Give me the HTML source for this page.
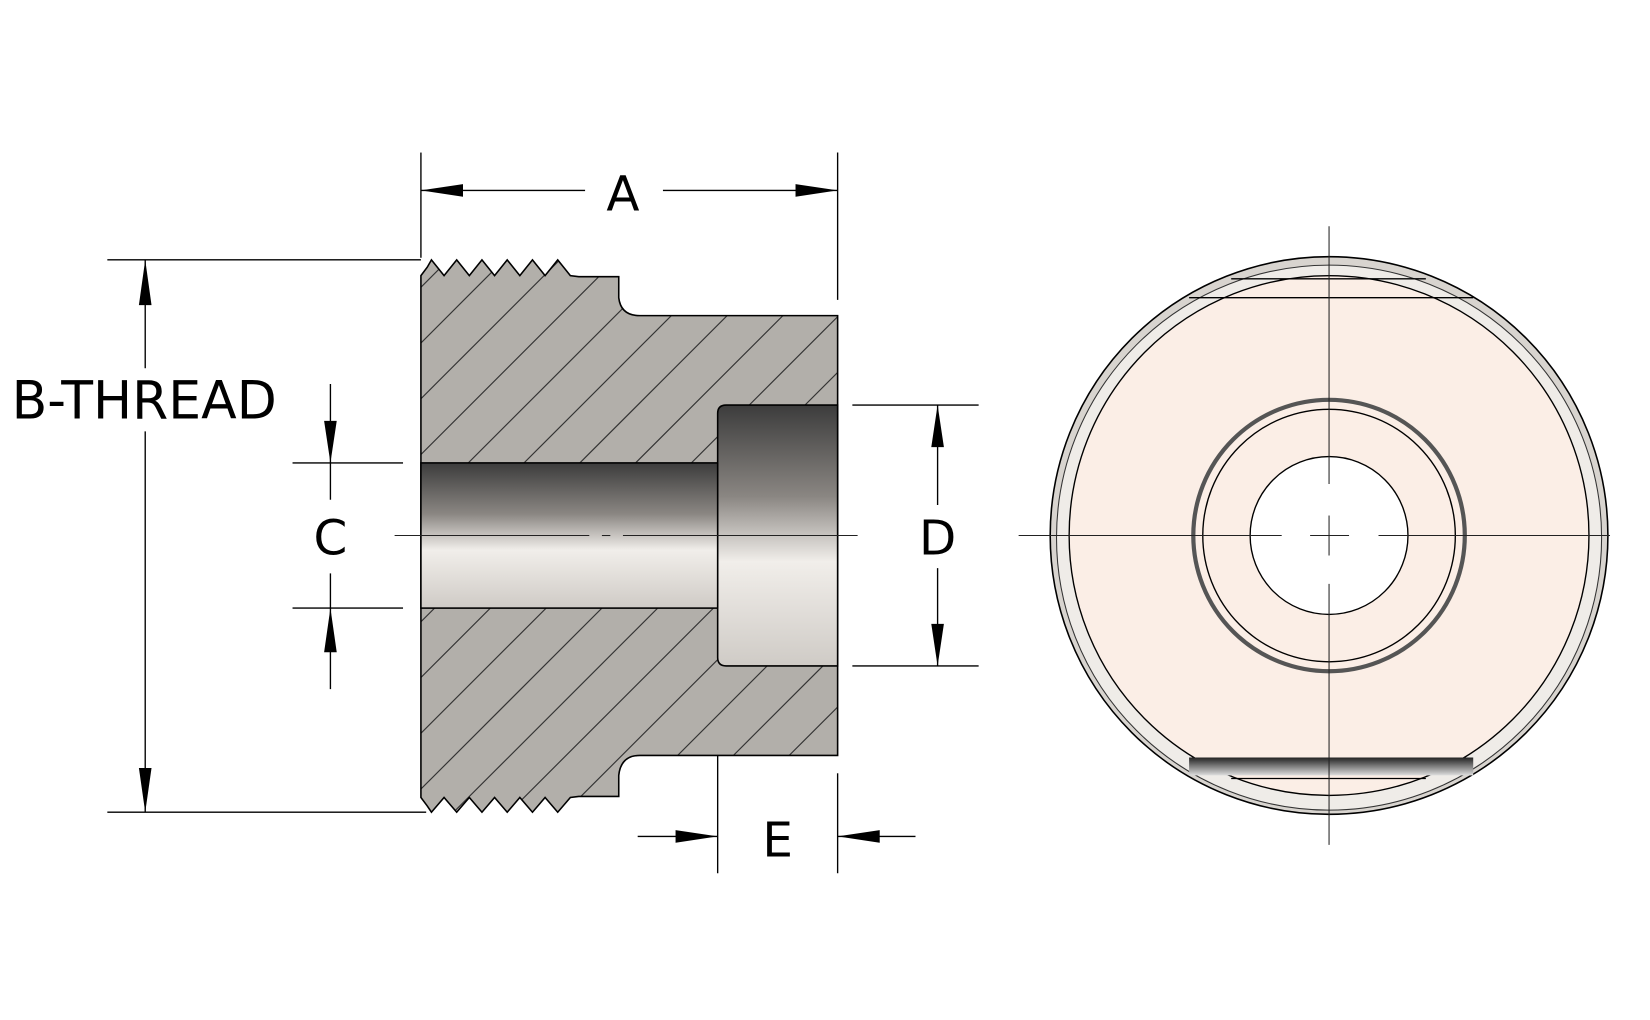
<!DOCTYPE html>
<html><head><meta charset="utf-8"><style>html,body{margin:0;padding:0;background:#fff}svg{display:block}</style></head>
<body>
<svg width="1650" height="1020" viewBox="0 0 1568 969.5" preserveAspectRatio="none" xmlns="http://www.w3.org/2000/svg">
<defs>
<linearGradient id="g" x1="0" y1="0" x2="0" y2="1">
<stop offset="0" stop-color="#3c3c3c"/><stop offset="0.35" stop-color="#8a8682"/><stop offset="0.6" stop-color="#f1eeea"/><stop offset="1" stop-color="#cfcbc6"/>
</linearGradient>
<linearGradient id="b" x1="0" y1="0" x2="0" y2="1">
<stop offset="0" stop-color="#222"/><stop offset="1" stop-color="#ddd"/>
</linearGradient>
<clipPath id="cp"><path id="bodyp" d="M400,262 L406,254 L410,247 L422,262 L434,247 L446,262 L458,247 L470,262 L482,247 L494,262 L506,247 L518,262 L530,247 L542,262 L550,263 L588,263 L588,283 Q590,300 608,300 L796,300 L796,718 L608,718 Q590,718 588,737 L588,757 L550,757 L542,758 L530,772 L518,758 L506,772 L494,758 L482,772 L470,758 L458,772 L446,758 L434,772 L422,758 L410,772 L406,766 L400,758 Z"/></clipPath>
</defs>
<g stroke="#000" stroke-width="1.3" fill="none">
<line x1="400" y1="145" x2="400" y2="245"/><line x1="796" y1="145" x2="796" y2="285"/>
<line x1="400" y1="181" x2="556" y2="181"/><line x1="630" y1="181" x2="796" y2="181"/>
<line x1="102" y1="247" x2="400" y2="247"/><line x1="102" y1="772" x2="405" y2="772"/>
<line x1="138" y1="247" x2="138" y2="350"/><line x1="138" y1="410" x2="138" y2="772"/>
<line x1="278" y1="440" x2="383" y2="440"/><line x1="278" y1="578" x2="383" y2="578"/>
<line x1="314" y1="365" x2="314" y2="475"/><line x1="314" y1="545" x2="314" y2="655"/>
<line x1="810" y1="385" x2="930" y2="385"/><line x1="810" y1="633" x2="930" y2="633"/>
<line x1="891" y1="385" x2="891" y2="480"/><line x1="891" y1="540" x2="891" y2="633"/>
<line x1="682" y1="640" x2="682" y2="830"/><line x1="796" y1="735" x2="796" y2="830"/>
<line x1="606" y1="795" x2="682" y2="795"/><line x1="796" y1="795" x2="870" y2="795"/>
</g>
<g fill="#000">
<polygon points="400,181 440,175 440,187"/><polygon points="796,181 756,175 756,187"/>
<polygon points="138,247 132,290 144,290"/><polygon points="138,772 132,730 144,730"/>
<polygon points="314,440 308,400 320,400"/><polygon points="314,578 308,620 320,620"/>
<polygon points="891,385 885,425 897,425"/><polygon points="891,633 885,593 897,593"/>
<polygon points="682,795 642,789 642,801"/><polygon points="796,795 836,789 836,801"/>
</g>
<rect x="390" y="240" width="420" height="540" fill="#b2afaa" clip-path="url(#cp)"/>
<g clip-path="url(#cp)" stroke="#333" stroke-width="1.1">
<line x1="620" y1="0" x2="-380" y2="1000"/><line x1="673" y1="0" x2="-327" y2="1000"/><line x1="726" y1="0" x2="-274" y2="1000"/><line x1="779" y1="0" x2="-221" y2="1000"/><line x1="832" y1="0" x2="-168" y2="1000"/><line x1="885" y1="0" x2="-115" y2="1000"/><line x1="938" y1="0" x2="-62" y2="1000"/><line x1="991" y1="0" x2="-9" y2="1000"/><line x1="1044" y1="0" x2="44" y2="1000"/><line x1="1097" y1="0" x2="97" y2="1000"/><line x1="1150" y1="0" x2="150" y2="1000"/><line x1="1203" y1="0" x2="203" y2="1000"/><line x1="1256" y1="0" x2="256" y2="1000"/><line x1="1309" y1="0" x2="309" y2="1000"/><line x1="1362" y1="0" x2="362" y2="1000"/><line x1="1415" y1="0" x2="415" y2="1000"/><line x1="1468" y1="0" x2="468" y2="1000"/><line x1="1521" y1="0" x2="521" y2="1000"/><line x1="1574" y1="0" x2="574" y2="1000"/><line x1="1627" y1="0" x2="627" y2="1000"/>
</g>
<use href="#bodyp" fill="none" stroke="#000" stroke-width="1.5"/>
<rect x="400" y="440" width="285" height="138" fill="url(#g)" stroke="#000" stroke-width="1.5"/>
<path d="M796,385 L690,385 Q682,385 682,393 L682,625 Q682,633 690,633 L796,633 Z" fill="url(#g)" stroke="#000" stroke-width="1.5"/>
<line x1="682" y1="440" x2="682" y2="578" stroke="#000" stroke-width="1.2"/>
<line x1="375" y1="509" x2="560" y2="509" stroke="#222" stroke-width="1"/><line x1="572" y1="509" x2="580" y2="509" stroke="#222"/><line x1="592" y1="509" x2="815" y2="509" stroke="#222" stroke-width="1"/>
<circle cx="1263" cy="509" r="265" fill="#d8d4cf" stroke="#000" stroke-width="1.5"/>
<circle cx="1263" cy="511" r="259" fill="#efece8" stroke="#333" stroke-width="1"/>
<circle cx="1263" cy="509" r="247" fill="#fbeee6" stroke="#000" stroke-width="1.3"/>
<line x1="1170" y1="265" x2="1355" y2="265" stroke="#000" stroke-width="1.3"/>
<line x1="1130" y1="283" x2="1400" y2="283" stroke="#000" stroke-width="1.3"/>
<rect x="1130" y="720" width="270" height="17" fill="url(#b)"/>
<line x1="1170" y1="740" x2="1355" y2="740" stroke="#000" stroke-width="1.2"/>
<circle cx="1263" cy="509" r="129" fill="none" stroke="#555" stroke-width="4"/>
<circle cx="1263" cy="509" r="120" fill="none" stroke="#000" stroke-width="1.3"/>
<circle cx="1263" cy="509" r="75" fill="#fff" stroke="#000" stroke-width="1.3"/>
<g stroke="#222" stroke-width="1">
<line x1="1263" y1="215" x2="1263" y2="460"/><line x1="1263" y1="490" x2="1263" y2="528"/><line x1="1263" y1="555" x2="1263" y2="803"/>
<line x1="968" y1="509" x2="1218" y2="509"/><line x1="1245" y1="509" x2="1282" y2="509"/><line x1="1310" y1="509" x2="1530" y2="509"/>
</g>
<g font-family="'DejaVu Sans','Liberation Sans',sans-serif" font-size="46" fill="#000" text-anchor="middle">
<text x="592" y="200">A</text>
<text x="137" y="398" font-size="50" textLength="252" lengthAdjust="spacingAndGlyphs">B-THREAD</text>
<text x="314" y="527">C</text>
<text x="891" y="527">D</text>
<text x="739" y="814">E</text>
</g>
</svg>
</body></html>
